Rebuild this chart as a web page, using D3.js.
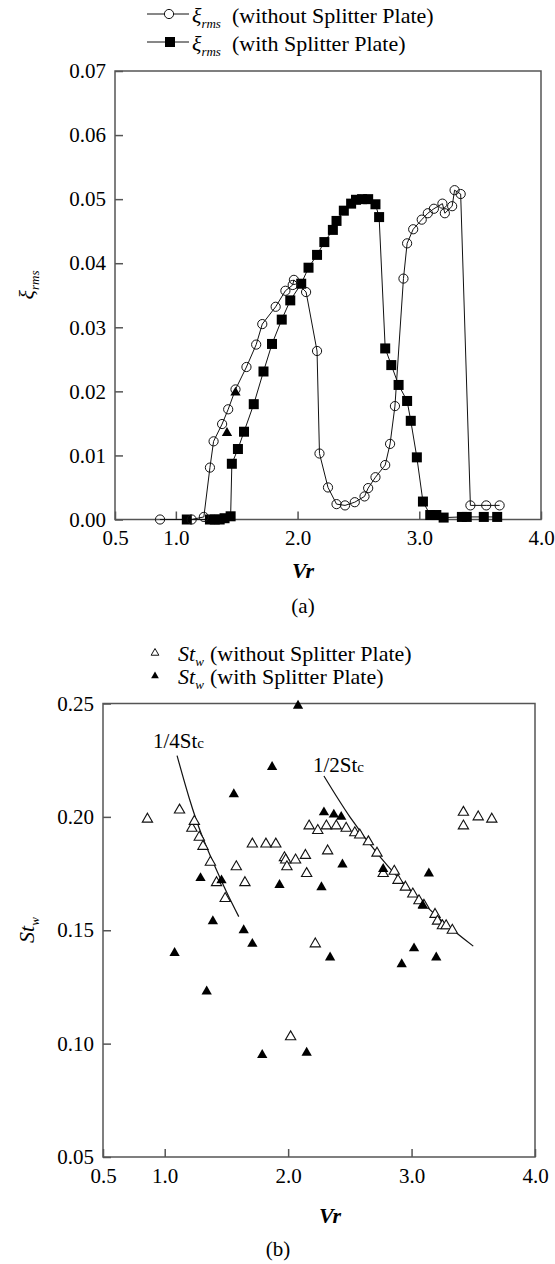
<!DOCTYPE html>
<html>
<head>
<meta charset="utf-8">
<script src="https://cdn.jsdelivr.net/npm/d3@7"></script>
<style>
  body { margin: 0; background: #fff; }
  svg text { font-family: "Liberation Serif", "DejaVu Serif", Times, serif; fill: #000; }
</style>
</head>
<body>
<svg id="chart" width="555" height="1264"></svg>
<script>
// ---- panel (a): xi_rms vs Vr ----
const vrNoPlateA = [0.87, 1.13, 1.23, 1.28, 1.31, 1.38, 1.43, 1.49, 1.58, 1.66, 1.71, 1.82, 1.90, 1.96, 1.97,
  2.07, 2.16, 2.18, 2.25, 2.32, 2.39, 2.47, 2.55, 2.58, 2.64, 2.72, 2.76, 2.80, 2.87, 2.90, 2.95,
  3.02, 3.07, 3.12, 3.19, 3.21, 3.27, 3.29, 3.34, 3.42, 3.55, 3.66];
const xiNoPlate = [0.0000, 0.0000, 0.0004, 0.0081, 0.0122, 0.0149, 0.0172, 0.0203, 0.0238, 0.0273, 0.0305, 0.0332, 0.0357, 0.0366, 0.0374,
  0.0355, 0.0263, 0.0103, 0.0050, 0.0024, 0.0022, 0.0027, 0.0036, 0.0049, 0.0066, 0.0085, 0.0118, 0.0177, 0.0376, 0.0431, 0.0453,
  0.0468, 0.0478, 0.0485, 0.0493, 0.0478, 0.0489, 0.0514, 0.0508, 0.0022, 0.0022, 0.0022];

const vrPlateA = [1.09, 1.28, 1.32, 1.36, 1.40, 1.45, 1.46, 1.51, 1.56, 1.64, 1.72, 1.79, 1.87, 1.94, 2.03,
  2.09, 2.16, 2.22, 2.29, 2.32, 2.38, 2.44, 2.48, 2.53, 2.58, 2.64, 2.67, 2.72, 2.77, 2.83, 2.90,
  2.93, 2.98, 3.03, 3.09, 3.14, 3.20, 3.35, 3.39, 3.53, 3.64];
const xiPlate = [0.0000, 0.0000, 0.0000, 0.0000, 0.0002, 0.0005, 0.0087, 0.0110, 0.0137, 0.0180, 0.0231, 0.0274, 0.0312, 0.0342, 0.0368,
  0.0393, 0.0413, 0.0433, 0.0452, 0.0466, 0.0482, 0.0493, 0.0499, 0.0500, 0.0500, 0.0492, 0.0472, 0.0267, 0.0241, 0.0210, 0.0185,
  0.0154, 0.0097, 0.0028, 0.0007, 0.0007, 0.0003, 0.0004, 0.0004, 0.0004, 0.0004];

// two stray filled triangles that sit in panel (a)
const vrStrayA = [1.42, 1.49];
const xiStray = [0.0135, 0.0198];

const xTicks = [0.5, 1.0, 2.0, 3.0, 4.0];
const yTicksA = [0, 0.01, 0.02, 0.03, 0.04, 0.05, 0.06, 0.07];

// ---- panel (b): St_w vs Vr ----
const vrNoPlateB = [0.86, 1.12, 1.22, 1.24, 1.28, 1.31, 1.37, 1.42, 1.49, 1.58, 1.65, 1.71, 1.82, 1.90, 1.97,
  1.98, 1.99, 2.02, 2.06, 2.14, 2.15, 2.17, 2.22, 2.24, 2.31, 2.32, 2.39, 2.47, 2.54, 2.58, 2.65,
  2.72, 2.77, 2.86, 2.89, 2.95, 3.01, 3.06, 3.10, 3.19, 3.21, 3.25, 3.28, 3.33, 3.42, 3.42, 3.54, 3.65];
const stNoPlate = [0.199, 0.203, 0.195, 0.198, 0.191, 0.187, 0.180, 0.171, 0.164, 0.178, 0.171, 0.188, 0.188, 0.188, 0.182,
  0.181, 0.178, 0.103, 0.181, 0.183, 0.175, 0.196, 0.144, 0.194, 0.196, 0.185, 0.196, 0.195, 0.193, 0.192, 0.189,
  0.184, 0.175, 0.176, 0.172, 0.169, 0.166, 0.163, 0.161, 0.157, 0.154, 0.152, 0.152, 0.150, 0.202, 0.196, 0.200, 0.199];

const vrPlateB = [1.08, 1.29, 1.34, 1.39, 1.46, 1.56, 1.64, 1.71, 1.79, 1.87, 1.93, 2.08, 2.15, 2.27, 2.29,
  2.34, 2.37, 2.43, 2.44, 2.77, 2.92, 3.02, 3.09, 3.14, 3.20];
const stPlate = [0.140, 0.173, 0.123, 0.154, 0.172, 0.210, 0.150, 0.144, 0.095, 0.222, 0.170, 0.249, 0.096, 0.169, 0.202,
  0.138, 0.201, 0.200, 0.179, 0.177, 0.135, 0.142, 0.161, 0.175, 0.138];

// reference curves
const vrQuarter = [1.10, 1.20, 1.30, 1.40, 1.50, 1.60];
const stQuarter = [0.227, 0.208, 0.192, 0.179, 0.167, 0.156];
const vrHalf = [2.29, 2.50, 2.75, 3.00, 3.25, 3.50];
const stHalf = [0.218, 0.200, 0.182, 0.167, 0.154, 0.143];

const yTicksB = [0.05, 0.10, 0.15, 0.20, 0.25];

const FONT = '"Liberation Serif", "DejaVu Serif", Times, serif';
const svg = d3.select('#chart');
const zip = (a, b) => a.map((v, i) => [v, b[i]]);

// draws frame + inward ticks + labels
function drawFrame(x, y, yTicks, yFmt) {
  const [x0, x1] = x.range();
  const [y0, y1] = y.range();
  const g = svg.append('g');

  g.append('g')
    .attr('transform', `translate(${x0},0)`)
    .call(d3.axisLeft(y).tickValues(yTicks).tickFormat(d3.format(yFmt)).tickSizeInner(-8).tickSizeOuter(0).tickPadding(9))
    .call((a) => a.select('.domain').remove());

  g.append('g')
    .attr('transform', `translate(0,${y0})`)
    .call(d3.axisBottom(x).tickValues(xTicks).tickFormat(d3.format('.1f')).tickSizeInner(-8).tickSizeOuter(0).tickPadding(11))
    .call((a) => a.select('.domain').remove());

  g.selectAll('g').attr('font-family', FONT).attr('font-size', 21);
  g.selectAll('.tick line').attr('stroke', '#555').attr('stroke-width', 1.5);
  g.selectAll('.tick text').attr('fill', '#000');

  g.append('rect')
    .attr('x', x0).attr('y', y1)
    .attr('width', x1 - x0).attr('height', y0 - y1)
    .attr('fill', 'none').attr('stroke', '#555').attr('stroke-width', 1.5);
}

// ================= panel (a) =================
const xa = d3.scaleLinear().domain([0.5, 4.0]).range([115, 541]);
const ya = d3.scaleLinear().domain([0, 0.07]).range([519.5, 71]);
drawFrame(xa, ya, yTicksA, '.2f');

const lineA = d3.line().x((d) => xa(d[0])).y((d) => ya(d[1]));
const noPlateA = zip(vrNoPlateA, xiNoPlate);
const plateA = zip(vrPlateA, xiPlate);

svg.append('path').datum(noPlateA).attr('d', lineA)
  .attr('fill', 'none').attr('stroke', '#111').attr('stroke-width', 1);
svg.append('path').datum(plateA).attr('d', lineA)
  .attr('fill', 'none').attr('stroke', '#111').attr('stroke-width', 1);

svg.append('g').selectAll('rect').data(plateA).enter().append('rect')
  .attr('x', (d) => xa(d[0]) - 5).attr('y', (d) => ya(d[1]) - 5)
  .attr('width', 10).attr('height', 10).attr('fill', '#000');

svg.append('g').selectAll('circle').data(noPlateA).enter().append('circle')
  .attr('cx', (d) => xa(d[0])).attr('cy', (d) => ya(d[1])).attr('r', 4.6)
  .attr('fill', 'none').attr('stroke', '#111').attr('stroke-width', 1);

const tri = d3.symbol().type(d3.symbolTriangle).size(46);
svg.append('g').selectAll('path').data(zip(vrStrayA, xiStray)).enter().append('path')
  .attr('d', tri).attr('transform', (d) => `translate(${xa(d[0])},${ya(d[1])})`).attr('fill', '#000');

// legend (a)
const legA = svg.append('g');
legA.append('line').attr('x1', 147).attr('x2', 189).attr('y1', 14).attr('y2', 14).attr('stroke', '#111');
legA.append('circle').attr('cx', 169).attr('cy', 14).attr('r', 4.6).attr('fill', '#fff').attr('stroke', '#111');
legA.append('line').attr('x1', 147).attr('x2', 189).attr('y1', 42).attr('y2', 42).attr('stroke', '#111');
legA.append('rect').attr('x', 165).attr('y', 37).attr('width', 10).attr('height', 10).attr('fill', '#000');
[['(without Splitter Plate)', 23], ['(with Splitter Plate)', 51]].forEach(([t, yb]) => {
  const tx = legA.append('text').attr('x', 192).attr('y', yb).style('font-size', '22px');
  tx.append('tspan').attr('font-style', 'italic').text('ξ');
  tx.append('tspan').attr('font-style', 'italic').attr('dy', 5).style('font-size', '13px').text('rms');
  legA.append('text').attr('x', 232).attr('y', yb).style('font-size', '22px').text(t);
});

// axis titles (a)
const yla = svg.append('text').attr('transform', 'translate(34,285) rotate(-90)')
  .attr('text-anchor', 'middle').style('font-size', '22px');
yla.append('tspan').attr('font-style', 'italic').text('ξ');
yla.append('tspan').attr('font-style', 'italic').attr('dy', 5).style('font-size', '13px').text('rms');

svg.append('text').attr('x', 303).attr('y', 578).attr('text-anchor', 'middle')
  .attr('font-style', 'italic').attr('font-weight', 'bold').style('font-size', '22px').text('Vr');
svg.append('text').attr('x', 303).attr('y', 613).attr('text-anchor', 'middle')
  .style('font-size', '21px').text('(a)');

// ================= panel (b) =================
const xb = d3.scaleLinear().domain([0.5, 4.0]).range([103, 535]);
const yb = d3.scaleLinear().domain([0.05, 0.25]).range([1157, 703.5]);
drawFrame(xb, yb, yTicksB, '.2f');

const curve = d3.line().x((d) => xb(d[0])).y((d) => yb(d[1])).curve(d3.curveNatural);
svg.append('path').datum(zip(vrQuarter, stQuarter)).attr('d', curve)
  .attr('fill', 'none').attr('stroke', '#111').attr('stroke-width', 1.2);
svg.append('path').datum(zip(vrHalf, stHalf)).attr('d', curve)
  .attr('fill', 'none').attr('stroke', '#111').attr('stroke-width', 1.2);

const triB = d3.symbol().type(d3.symbolTriangle).size(46);
svg.append('g').selectAll('path').data(zip(vrNoPlateB, stNoPlate)).enter().append('path')
  .attr('d', triB).attr('transform', (d) => `translate(${xb(d[0])},${yb(d[1])})`)
  .attr('fill', '#fff').attr('stroke', '#111').attr('stroke-width', 1.1);
svg.append('g').selectAll('path').data(zip(vrPlateB, stPlate)).enter().append('path')
  .attr('d', triB).attr('transform', (d) => `translate(${xb(d[0])},${yb(d[1])})`)
  .attr('fill', '#000');

// curve labels
[['1/4St', 153, 748], ['1/2St', 313, 772]].forEach(([t, x, y]) => {
  const tx = svg.append('text').attr('x', x).attr('y', y).style('font-size', '21px');
  tx.append('tspan').text(t);
  tx.append('tspan').style('font-size', '15px').text('c');
});

// legend (b)
const legB = svg.append('g');
const smallTri = d3.symbol().type(d3.symbolTriangle).size(26);
legB.append('path').attr('d', smallTri).attr('transform', 'translate(155,653)')
  .attr('fill', '#fff').attr('stroke', '#111').attr('stroke-width', 1);
legB.append('path').attr('d', smallTri).attr('transform', 'translate(155,676)').attr('fill', '#000');
[['(without Splitter Plate)', 661], ['(with Splitter Plate)', 684]].forEach(([t, y]) => {
  const tx = legB.append('text').attr('x', 178).attr('y', y).style('font-size', '22px');
  tx.append('tspan').attr('font-style', 'italic').text('St');
  tx.append('tspan').attr('font-style', 'italic').attr('dy', 5).style('font-size', '13px').text('w');
  legB.append('text').attr('x', 210).attr('y', y).style('font-size', '22px').text(t);
});

// axis titles (b)
const ylb = svg.append('text').attr('transform', 'translate(34,930) rotate(-90)')
  .attr('text-anchor', 'middle').style('font-size', '22px');
ylb.append('tspan').attr('font-style', 'italic').text('St');
ylb.append('tspan').attr('font-style', 'italic').attr('dy', 5).style('font-size', '13px').text('w');

svg.append('text').attr('x', 330).attr('y', 1223).attr('text-anchor', 'middle')
  .attr('font-style', 'italic').attr('font-weight', 'bold').style('font-size', '22px').text('Vr');
svg.append('text').attr('x', 278).attr('y', 1256).attr('text-anchor', 'middle')
  .style('font-size', '21px').text('(b)');
</script>
</body>
</html>
